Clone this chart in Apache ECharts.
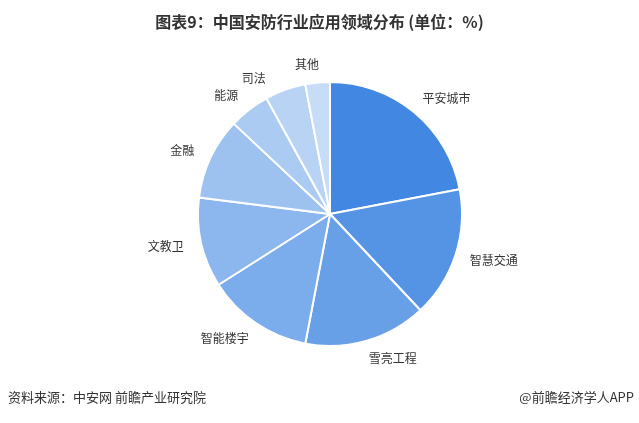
<!DOCTYPE html>
<html><head><meta charset="utf-8">
<script src="https://cdn.jsdelivr.net/npm/echarts@6/dist/echarts.min.js"></script>
<style>html,body{margin:0;padding:0;background:#fff;}#c{width:639px;height:423px;}</style>
</head><body><div id="c"></div>
<script>
var categories = ['平安城市','智慧交通','雪亮工程','智能楼宇','文教卫','金融','能源','司法','其他'];
var values = [22, 16, 15, 13, 11, 10, 5, 5, 3];
var colors = ['#4287E2','#5593E5','#68A0E8','#7BACEB','#8CB7EE','#9DC2F0','#ACCBF2','#B9D3F4','#C7DCF7'];
var titleText = '图表9：中国安防行业应用领域分布 (单位：%)';
var sourceText = '资料来源：中安网 前瞻产业研究院';
var brandText = '@前瞻经济学人APP';

var chart = echarts.init(document.getElementById('c'), null, {renderer:'canvas'});
chart.setOption({
  backgroundColor:'#fff',
  animation:false,
  title:[
    {text:titleText, left:'center', top:9, textStyle:{fontFamily:'Noto Sans CJK SC', fontSize:16, fontWeight:'bold', color:'#333'}},
    {text:sourceText, left:3, top:386, textStyle:{fontFamily:'Noto Sans CJK SC', fontSize:13, fontWeight:'normal', color:'#333'}},
    {text:brandText, right:0, top:386, textStyle:{fontFamily:'Noto Sans CJK SC', fontSize:13, fontWeight:'normal', color:'#333'}}
  ],
  series:[{
    type:'pie',
    center:[330,214],
    radius:[0,132],
    startAngle:90,
    clockwise:true,
    data:categories.map(function(c,i){return {name:c, value:values[i], itemStyle:{color:colors[i]}};}),
    itemStyle:{borderColor:'#fff', borderWidth:2},
    label:{show:true, position:'outside', fontFamily:'Noto Sans CJK SC', fontSize:12, color:'#333', distanceToLabelLine:-3},
    labelLine:{show:false, length:18, length2:0},
    emphasis:{disabled:true}
  }]
});
</script></body></html>
